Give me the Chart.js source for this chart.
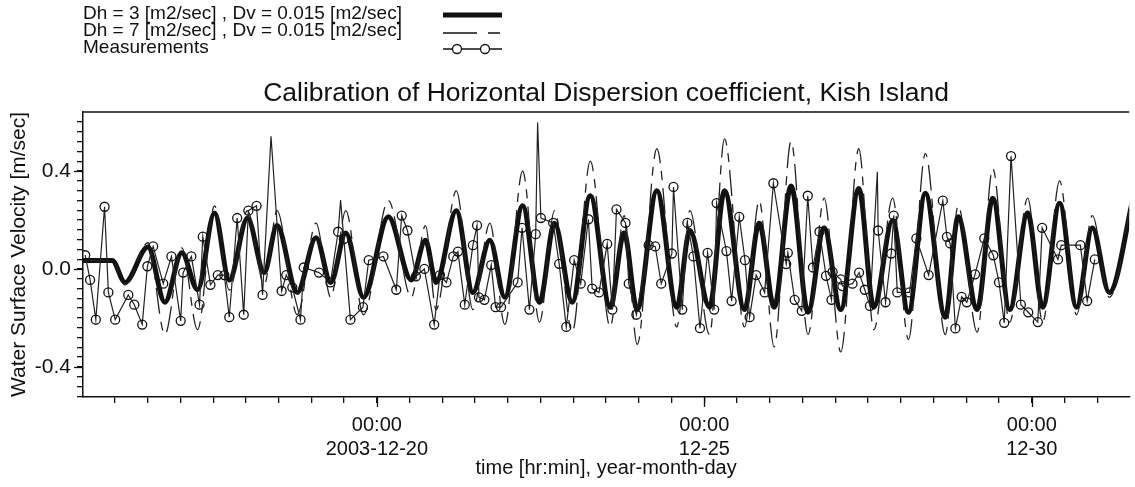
<!DOCTYPE html>
<html>
<head>
<meta charset="utf-8">
<script src="https://cdn.jsdelivr.net/npm/chart.js@4/dist/chart.umd.min.js"></script>
<style>
  html, body { margin: 0; padding: 0; background: #fff; }
  #myChart { display: block; }
</style>
</head>
<body>
<canvas id="myChart" width="1135" height="487"></canvas>
<script>
// time axis: hours since 2003-12-15 00:00
var modelHours = [12.3, 23.0, 27.7, 36.1, 42.3, 48.5, 54.3, 60.5, 65.9, 72.6, 78.7, 83.4, 90.8, 97.7, 103.1, 108.6,
  115.1, 124.2, 132.6, 137.8, 141.7, 149.1, 155.2, 161.4, 166.9, 173.4, 179.6, 185.1, 191.6, 198.2, 205.5, 210.6,
  215.4, 222.6, 229.9, 234.7, 241.9, 247.4, 254.7, 260.1, 265.6, 271.8, 278.0, 283.9, 290.0, 296.6, 302.1, 309.0,
  314.8, 321.0, 328.3, 333.0, 340.0, 345.7, 351.9, 358.5, 364.0, 370.2, 376.4, 382.2, 388.4, 397.5];

// Dh = 3 (thick line)
var dh3Values = [0.035, 0.035, -0.055, 0.09, -0.136, 0.066, -0.085, 0.228, -0.045, 0.208, -0.015, 0.177, -0.096, 0.127, -0.055, 0.147,
  -0.116, 0.213, -0.045, 0.117, -0.055, 0.238, -0.096, 0.117, -0.116, 0.258, -0.136, 0.187, -0.136, 0.299, -0.156, 0.147,
  -0.166, 0.319, -0.156, 0.157, -0.156, 0.319, -0.166, 0.187, -0.156, 0.339, -0.177, 0.167, -0.166, 0.329, -0.156, 0.198,
  -0.177, 0.309, -0.197, 0.213, -0.166, 0.289, -0.166, 0.228, -0.156, 0.268, -0.156, 0.167, -0.096, 0.309];

// Dh = 7 (dashed line)
var dh7Values = [0.035, 0.035, -0.065, 0.107, -0.268, 0.086, -0.248, 0.258, -0.086, 0.238, -0.065, 0.238, -0.187, 0.187, -0.116, 0.238,
  -0.187, 0.279, -0.116, 0.177, -0.166, 0.319, -0.166, 0.187, -0.227, 0.40, -0.217, 0.238, -0.258, 0.44, -0.237, 0.218,
  -0.308, 0.491, -0.237, 0.238, -0.268, 0.531, -0.237, 0.279, -0.318, 0.521, -0.268, 0.289, -0.339, 0.491, -0.248, 0.289,
  -0.288, 0.471, -0.268, 0.258, -0.258, 0.41, -0.217, 0.289, -0.217, 0.36, -0.187, 0.218, -0.116, 0.339];

// measurements (circled samples)
var measHours = [13.1, 14.9, 17.0, 20.2, 21.6, 24.1, 28.9, 31.1, 34.0, 35.9, 38.0, 41.7, 44.7, 48.1, 49.0, 52.0, 55.0, 56.2, 59.0, 61.7,
  64.1, 65.9, 68.8, 71.2, 72.9, 75.9, 78.1, 85.1, 86.8, 89.0, 92.0, 93.2, 98.8, 103.0, 105.8, 107.9, 110.3, 114.9, 117.0, 122.4,
  127.1, 129.1, 131.2, 134.3, 137.4, 141.0, 143.1, 145.5, 148.0, 149.7, 152.2, 155.2, 156.7, 157.4, 159.4, 161.9, 163.5, 165.5, 171.6, 173.2,
  175.9, 178.2, 180.1, 184.6, 186.8, 189.4, 192.3, 194.7, 197.5, 198.9, 201.4, 204.4, 206.3, 207.8, 211.1, 212.3, 215.1, 219.6, 222.0, 224.2,
  228.1, 228.7, 231.9, 233.8, 236.0, 238.4, 241.2, 243.6, 244.5, 248.1, 250.0, 252.8, 254.9, 256.6, 259.0, 262.1, 265.3, 270.0, 270.6, 273.1,
  275.7, 277.9, 279.8, 282.2, 284.6, 286.6, 287.0, 290.0, 290.6, 294.3, 296.7, 298.8, 300.7, 303.7, 306.4, 308.5, 309.4, 310.7, 315.2, 317.7,
  322.2, 327.4, 328.9, 330.1, 332.0, 334.3, 336.2, 339.2, 342.6, 345.9, 348.0, 349.9, 352.4, 356.0, 358.7, 362.2, 363.8, 369.6, 370.8, 377.8,
  380.3, 383.1];
var measValues = [0.056, -0.045, -0.207, 0.254, -0.096, -0.207, -0.106, -0.146, -0.227, 0.011, 0.092, -0.06, 0.051, -0.212, -0.015, 0.051, -0.146, 0.132, -0.065, -0.025,
  -0.025, -0.197, 0.208, -0.187, 0.238, 0.258, -0.106, -0.09, -0.025, -0.075, -0.207, 0.006, -0.015, -0.055, 0.152, 0.122, -0.207, -0.156, 0.036, 0.051,
  -0.085, 0.218, 0.157, -0.03, 0.0, -0.227, -0.025, -0.055, 0.051, 0.071, -0.146, 0.097, 0.178, -0.116, -0.126, 0.016, -0.156, -0.156, -0.055, 0.168,
  -0.166, 0.142, 0.208, 0.188, 0.021, -0.237, 0.036, -0.06, 0.203, -0.08, -0.096, 0.102, -0.166, 0.243, 0.188, -0.06, -0.187, 0.097, 0.092, -0.06,
  0.063, 0.335, -0.166, 0.188, 0.051, -0.242, 0.066, -0.166, 0.269, 0.073, -0.131, 0.213, 0.036, -0.197, -0.025, -0.096, 0.35, 0.02, 0.066, -0.126,
  -0.171, 0.299, 0.006, 0.152, -0.028, -0.126, -0.012, -0.043, -0.07, -0.06, -0.015, -0.085, -0.151, 0.157, -0.136, 0.063, 0.218, -0.096, -0.096, 0.125,
  -0.025, 0.279, 0.131, 0.104, -0.243, -0.114, -0.136, -0.022, 0.125, 0.056, -0.055, -0.22, 0.461, -0.146, -0.177, -0.217, 0.168, 0.039, 0.097, 0.097,
  -0.131, 0.039];

// measurement samples without a marker (spikes)
var spikeHours = [81.2, 106.7, 178.9, 303.4];
var spikeValues = [0.542, 0.281, 0.598, 0.397];

var xLabelHours = [120, 240, 360];
var xLabelLines = [["00:00", "2003-12-20"], ["00:00", "12-25"], ["00:00", "12-30"]];
var yLabelValues = [-0.4, 0, 0.4];
var yLabelText = ["-0.4", "0.0", "0.4"];

var legendLabels = [
  "Dh = 3 [m2/sec] , Dv = 0.015 [m2/sec]",
  "Dh = 7 [m2/sec] , Dv = 0.015 [m2/sec]",
  "Measurements"
];
var chartTitle = "Calibration of Horizontal Dispersion coefficient, Kish Island";

var FONT = '"Liberation Sans", Arial, sans-serif';
var INK = "#111";
var dashPattern = [26, 8, 9, 8];

function pairs(xs, ys) {
  return xs.map(function (x, i) { return { x: x, y: ys[i] }; });
}

var measData = measHours.map(function (h, i) { return { x: h, y: measValues[i], m: true }; })
  .concat(spikeHours.map(function (h, i) { return { x: h, y: spikeValues[i], m: false }; }))
  .sort(function (a, b) { return a.x - b.x; });

var decorations = {
  id: "decorations",
  afterDraw: function (chart) {
    var ctx = chart.ctx, area = chart.chartArea;
    var xs = chart.scales.x, ys = chart.scales.y;
    ctx.save();
    ctx.strokeStyle = INK;
    ctx.lineWidth = 1.5;
    // top frame line
    ctx.beginPath();
    ctx.moveTo(area.left, area.top);
    ctx.lineTo(area.right, area.top);
    ctx.stroke();

    // longer ticks at labelled positions
    ctx.lineWidth = 1.3;
    xLabelHours.forEach(function (h) {
      var px = Math.round(xs.getPixelForValue(h)) + 0.5;
      ctx.beginPath(); ctx.moveTo(px, area.bottom); ctx.lineTo(px, area.bottom + 10); ctx.stroke();
    });
    yLabelValues.forEach(function (v) {
      var py = Math.round(ys.getPixelForValue(v)) + 0.5;
      ctx.beginPath(); ctx.moveTo(area.left, py); ctx.lineTo(area.left - 9, py); ctx.stroke();
    });

    // title
    ctx.fillStyle = INK;
    ctx.font = "26.5px " + FONT;
    ctx.textAlign = "center";
    ctx.textBaseline = "middle";
    ctx.fillText(chartTitle, (area.left + area.right) / 2, 94);

    // legend
    var rows = [14, 31, 47.5];
    ctx.font = "19px " + FONT;
    ctx.textAlign = "left";
    legendLabels.forEach(function (t, i) { ctx.fillText(t, 83, rows[i]); });

    ctx.lineCap = "butt";
    ctx.lineWidth = 5;
    ctx.beginPath(); ctx.moveTo(443, 15); ctx.lineTo(502, 15); ctx.stroke();

    ctx.lineWidth = 1.3;
    ctx.setLineDash([34, 11, 12, 20]);
    ctx.beginPath(); ctx.moveTo(443, 33); ctx.lineTo(501, 33); ctx.stroke();
    ctx.setLineDash([]);

    ctx.beginPath(); ctx.moveTo(443, 49); ctx.lineTo(502, 49); ctx.stroke();
    [457, 485].forEach(function (cx) {
      ctx.beginPath(); ctx.arc(cx, 49, 4.5, 0, Math.PI * 2);
      ctx.fillStyle = "#fff"; ctx.fill(); ctx.stroke();
    });
    ctx.restore();
  }
};

var ctx = document.getElementById("myChart").getContext("2d");
var myChart = new Chart(ctx, {
  type: "line",
  data: {
    datasets: [
      {
        label: legendLabels[2],
        data: measData,
        borderColor: "#222",
        borderWidth: 1.2,
        pointRadius: function (c) { return c.raw && c.raw.m ? 4.5 : 0; },
        pointBorderColor: INK,
        pointBorderWidth: 1.3,
        pointBackgroundColor: "rgba(255,255,255,0)",
        tension: 0,
        order: 0
      },
      {
        label: legendLabels[1],
        data: pairs(modelHours, dh7Values),
        borderColor: "#222",
        borderWidth: 1.3,
        borderDash: dashPattern,
        pointRadius: 0,
        cubicInterpolationMode: "monotone",
        order: 1
      },
      {
        label: legendLabels[0],
        data: pairs(modelHours, dh3Values),
        borderColor: INK,
        borderWidth: 5,
        pointRadius: 0,
        cubicInterpolationMode: "monotone",
        order: 2
      }
    ]
  },
  plugins: [decorations],
  options: {
    responsive: false,
    animation: false,
    layout: { padding: { top: 112, left: 0, right: 0, bottom: 0 } },
    plugins: {
      legend: { display: false },
      tooltip: { enabled: false },
      title: { display: false }
    },
    scales: {
      x: {
        type: "linear",
        min: 12.3,
        max: 395.7,
        afterFit: function (s) { s.height = 90; },
        afterBuildTicks: function (s) {
          var t = [];
          for (var h = 24; h <= 384; h += 12) t.push({ value: h });
          s.ticks = t;
        },
        ticks: {
          autoSkip: false,
          maxRotation: 0,
          padding: 10,
          color: INK,
          font: { family: FONT, size: 20 },
          callback: function (v) {
            var i = xLabelHours.indexOf(v);
            return i >= 0 ? xLabelLines[i] : "";
          }
        },
        grid: { drawOnChartArea: false, drawTicks: true, tickLength: 6, color: INK, lineWidth: 1.3 },
        border: { display: true, color: INK, width: 1.5 },
        title: {
          display: true,
          text: "time [hr:min], year-month-day",
          color: INK,
          font: { family: FONT, size: 20 },
          padding: { top: 0, bottom: 7 }
        }
      },
      y: {
        min: -0.523,
        max: 0.641,
        afterFit: function (s) { s.width = 83; },
        afterBuildTicks: function (s) {
          var t = [];
          for (var k = -13; k <= 15; k++) t.push({ value: Math.round(k * 4) / 100 });
          s.ticks = t;
        },
        ticks: {
          autoSkip: false,
          padding: 6,
          color: INK,
          font: { family: FONT, size: 21 },
          callback: function (v) {
            for (var i = 0; i < yLabelValues.length; i++) {
              if (Math.abs(v - yLabelValues[i]) < 1e-6) return yLabelText[i];
            }
            return "";
          }
        },
        grid: { drawOnChartArea: false, drawTicks: true, tickLength: 6, color: INK, lineWidth: 1.3 },
        border: { display: true, color: INK, width: 1.5 },
        title: {
          display: true,
          text: "Water Surface Velocity [m/sec]",
          color: INK,
          font: { family: FONT, size: 21 },
          padding: { top: 7, bottom: 0 }
        }
      }
    }
  }
});
</script>
</body>
</html>
